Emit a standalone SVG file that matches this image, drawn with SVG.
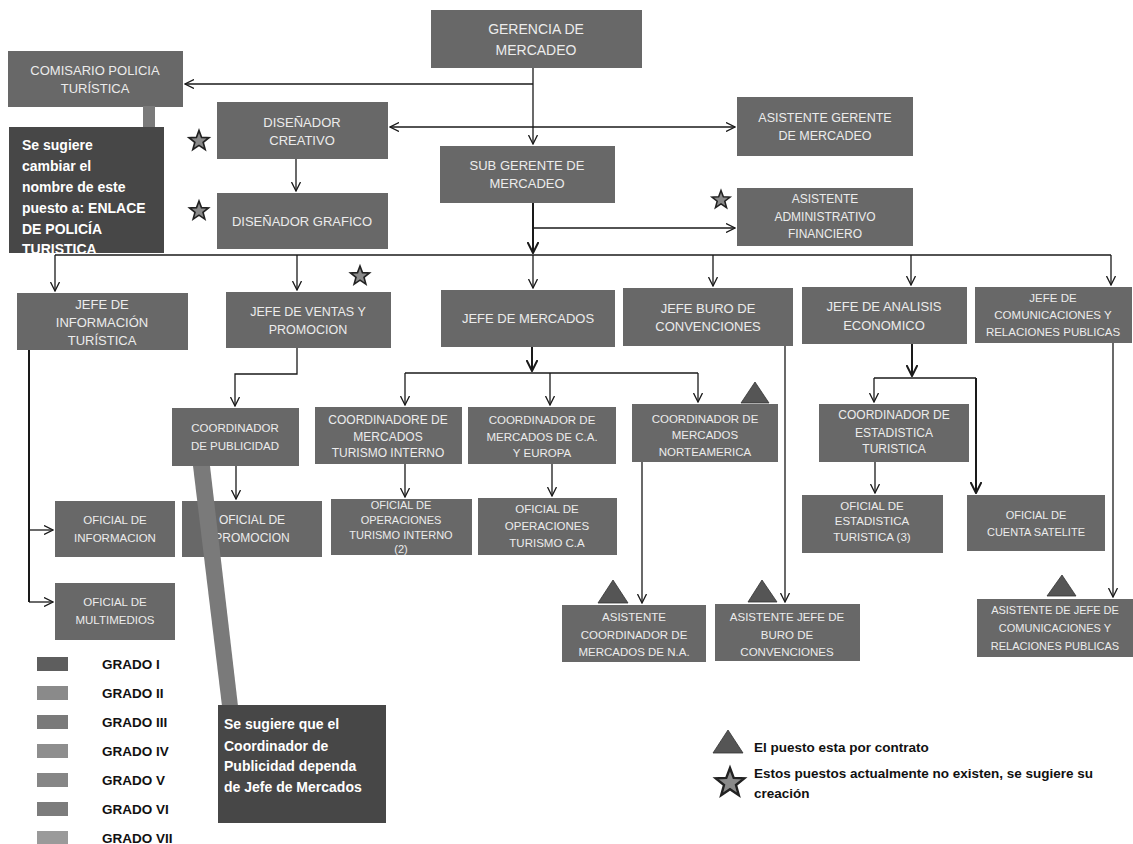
<svg xmlns="http://www.w3.org/2000/svg" xmlns:xlink="http://www.w3.org/1999/xlink" width="1133" height="844" viewBox="0 0 1133 844">
<style>
.box{fill:#686868}
.call{fill:#474747}
.t{font-family:"Liberation Sans",Arial,sans-serif;fill:#ececec;text-anchor:middle}
.ct{font-family:"Liberation Sans",Arial,sans-serif;fill:#ffffff;font-weight:bold;font-size:14px}
.lg{font-family:"Liberation Sans",Arial,sans-serif;fill:#111;font-weight:bold}
.c{stroke:#1a1a1a;stroke-width:1.3;fill:none}
.cb{stroke:#1a1a1a;stroke-width:2;fill:none}
.bar{fill:#7a7a7a}
.tri{fill:#555;stroke:#333;stroke-width:0.8}
.star{fill:#8a8a8a;stroke:#222;stroke-width:1.6}
</style>
<defs>
<marker id="a" markerUnits="userSpaceOnUse" viewBox="0 0 10 10" refX="9" refY="5" markerWidth="10" markerHeight="10" orient="auto-start-reverse">
<path d="M0,0.5 L9,5 L0,9.5" fill="none" stroke="#1a1a1a" stroke-width="1.3"/>
</marker>
<marker id="ab" markerUnits="userSpaceOnUse" viewBox="0 0 12 12" refX="11" refY="6" markerWidth="12" markerHeight="12" orient="auto">
<path d="M0,0.5 L11,6 L0,11.5" fill="none" stroke="#1a1a1a" stroke-width="2"/>
</marker>
<path id="star" d="M0,-10 L2.47,-3.4 L9.51,-3.09 L3.99,1.3 L5.88,8.09 L0,4.2 L-5.88,8.09 L-3.99,1.3 L-9.51,-3.09 L-2.47,-3.4 Z"/>
</defs>
<rect width="1133" height="844" fill="#ffffff"/>

<g id="connectors">
<path class="c" d="M533,68 V144" marker-end="url(#a)"/>
<path class="c" d="M533,84 H185" marker-end="url(#a)"/>
<path class="c" d="M390,127 H735" marker-start="url(#a)" marker-end="url(#a)"/>
<path class="c" d="M296,159 V191" marker-end="url(#a)"/>
<path class="cb" d="M533,203 V253" marker-end="url(#ab)"/>
<path class="c" d="M533,228 H735" marker-end="url(#a)"/>
<path class="c" d="M55,255 H1111"/>
<path class="c" d="M55,255 V291" marker-end="url(#a)"/>
<path class="c" d="M297,255 V290" marker-end="url(#a)"/>
<path class="c" d="M533,255 V288" marker-end="url(#a)"/>
<path class="c" d="M713,255 V286" marker-end="url(#a)"/>
<path class="c" d="M911,255 V285" marker-end="url(#a)"/>
<path class="c" d="M1111,255 V285" marker-end="url(#a)"/>
<path class="cb" d="M29,350 V602"/>
<path class="c" d="M29,530 H53" marker-end="url(#a)"/>
<path class="c" d="M29,602 H53" marker-end="url(#a)"/>
<path class="c" d="M297,348 V374 H235 V406" marker-end="url(#a)"/>
<path class="c" d="M236,466 V499" marker-end="url(#a)"/>
<path class="cb" d="M532,347 V371" marker-end="url(#ab)"/>
<path class="c" d="M405,373 H698"/>
<path class="c" d="M405,373 V405" marker-end="url(#a)"/>
<path class="c" d="M550,373 V405" marker-end="url(#a)"/>
<path class="c" d="M698,373 V402" marker-end="url(#a)"/>
<path class="c" d="M405,464 V497" marker-end="url(#a)"/>
<path class="c" d="M552,464 V496" marker-end="url(#a)"/>
<path class="c" d="M642,462 V603" marker-end="url(#a)"/>
<path class="c" d="M785,346 V602" marker-end="url(#a)"/>
<path class="cb" d="M912,344 V376" marker-end="url(#ab)"/>
<path class="c" d="M874,378 H976"/>
<path class="c" d="M874,378 V402" marker-end="url(#a)"/>
<path class="cb" d="M976,378 V493" marker-end="url(#ab)"/>
<path class="c" d="M875,462 V493" marker-end="url(#a)"/>
<path class="c" d="M1113,343 V597" marker-end="url(#a)"/>
</g>

<g id="gerencia"><rect class="box" x="431" y="10" width="211" height="58"/>
<text class="t" font-size="14"><tspan x="536" y="34">GERENCIA DE</tspan><tspan x="536" y="55">MERCADEO</tspan></text></g>

<g id="comisario"><rect class="box" x="8" y="51" width="175" height="56"/>
<text class="t" font-size="13"><tspan x="95" y="75">COMISARIO POLICIA</tspan><tspan x="95" y="93">TURÍSTICA</tspan></text></g>

<g id="nota-comisario"><rect class="bar" x="143" y="106" width="12" height="22"/>
<rect class="call" x="9" y="127" width="155" height="126"/>
<text class="ct"><tspan x="22" y="150">Se sugiere</tspan><tspan x="22" y="171">cambiar el</tspan><tspan x="22" y="192">nombre de este</tspan><tspan x="22" y="213">puesto a: ENLACE</tspan><tspan x="22" y="234">DE POLICÍA</tspan><tspan x="22" y="254">TURISTICA</tspan></text></g>

<g id="disenador-creativo"><rect class="box" x="217" y="102" width="171" height="57"/>
<text class="t" font-size="13"><tspan x="302" y="127">DISEÑADOR</tspan><tspan x="302" y="145">CREATIVO</tspan></text>
<use href="#star" class="star" transform="translate(199,141) scale(1.05)"/></g>

<g id="disenador-grafico"><rect class="box" x="217" y="193" width="171" height="56"/>
<text class="t" font-size="13"><tspan x="302" y="226">DISEÑADOR GRAFICO</tspan></text>
<use href="#star" class="star" transform="translate(199,211) scale(1.0)"/></g>

<g id="sub-gerente"><rect class="box" x="440" y="146" width="175" height="57"/>
<text class="t" font-size="13"><tspan x="527" y="170">SUB GERENTE DE</tspan><tspan x="527" y="188">MERCADEO</tspan></text></g>

<g id="asistente-gerente"><rect class="box" x="737" y="97" width="176" height="59"/>
<text class="t" font-size="12.5"><tspan x="825" y="122">ASISTENTE GERENTE</tspan><tspan x="825" y="140">DE MERCADEO</tspan></text></g>

<g id="asistente-administrativo"><rect class="box" x="737" y="188" width="176" height="58"/>
<text class="t" font-size="12"><tspan x="825" y="203">ASISTENTE</tspan><tspan x="825" y="221">ADMINISTRATIVO</tspan><tspan x="825" y="238">FINANCIERO</tspan></text>
<use href="#star" class="star" transform="translate(721,200) scale(0.95)"/></g>

<g id="jefe-informacion"><rect class="box" x="17" y="293" width="171" height="57"/>
<text class="t" font-size="13"><tspan x="102" y="309">JEFE DE</tspan><tspan x="102" y="327">INFORMACIÓN</tspan><tspan x="102" y="345">TURÍSTICA</tspan></text></g>

<g id="jefe-ventas"><rect class="box" x="226" y="292" width="165" height="56"/>
<text class="t" font-size="12.5"><tspan x="308" y="316">JEFE DE VENTAS Y</tspan><tspan x="308" y="334">PROMOCION</tspan></text>
<use href="#star" class="star" transform="translate(360,276) scale(1.0)"/></g>

<g id="jefe-mercados"><rect class="box" x="441" y="290" width="174" height="57"/>
<text class="t" font-size="13"><tspan x="528" y="323">JEFE DE MERCADOS</tspan></text></g>

<g id="jefe-buro"><rect class="box" x="623" y="288" width="170" height="58"/>
<text class="t" font-size="13"><tspan x="708" y="313">JEFE  BURO DE</tspan><tspan x="708" y="331">CONVENCIONES</tspan></text></g>

<g id="jefe-analisis"><rect class="box" x="802" y="287" width="165" height="57"/>
<text class="t" font-size="13"><tspan x="884" y="311">JEFE DE ANALISIS</tspan><tspan x="884" y="330">ECONOMICO</tspan></text></g>

<g id="jefe-comunicaciones"><rect class="box" x="975" y="287" width="157" height="56"/>
<text class="t" font-size="11.5"><tspan x="1053" y="302">JEFE DE</tspan><tspan x="1053" y="319">COMUNICACIONES Y</tspan><tspan x="1053" y="336">RELACIONES PUBLICAS</tspan></text></g>

<g id="coordinador-publicidad"><rect class="box" x="172" y="408" width="127" height="58"/>
<text class="t" font-size="11.5"><tspan x="235" y="432">COORDINADOR</tspan><tspan x="235" y="450">DE PUBLICIDAD</tspan></text></g>

<g id="coordinador-turismo-interno"><rect class="box" x="315" y="407" width="147" height="57"/>
<text class="t" font-size="12"><tspan x="388" y="424">COORDINADORE DE</tspan><tspan x="388" y="441">MERCADOS</tspan><tspan x="388" y="457">TURISMO INTERNO</tspan></text></g>

<g id="coordinador-ca-europa"><rect class="box" x="468" y="407" width="148" height="57"/>
<text class="t" font-size="11.5"><tspan x="542" y="424">COORDINADOR DE</tspan><tspan x="542" y="441">MERCADOS DE C.A.</tspan><tspan x="542" y="457">Y EUROPA</tspan></text></g>

<g id="coordinador-norteamerica"><rect class="box" x="632" y="404" width="146" height="58"/>
<text class="t" font-size="11.5"><tspan x="705" y="423">COORDINADOR DE</tspan><tspan x="705" y="439">MERCADOS</tspan><tspan x="705" y="456">NORTEAMERICA</tspan></text>
<polygon class="tri" points="741,403 755,382 769,403"/></g>

<g id="oficial-informacion"><rect class="box" x="55" y="501" width="120" height="56"/>
<text class="t" font-size="11.5"><tspan x="115" y="524">OFICIAL DE</tspan><tspan x="115" y="542">INFORMACION</tspan></text></g>

<g id="oficial-multimedios"><rect class="box" x="55" y="583" width="120" height="57"/>
<text class="t" font-size="11.5"><tspan x="115" y="606">OFICIAL DE</tspan><tspan x="115" y="624">MULTIMEDIOS</tspan></text></g>

<g id="oficial-promocion"><rect class="box" x="182" y="501" width="140" height="56"/>
<text class="t" font-size="12"><tspan x="252" y="524">OFICIAL DE</tspan><tspan x="252" y="542">PROMOCION</tspan></text></g>

<g id="oficial-operaciones-interno"><rect class="box" x="331" y="499" width="141" height="56"/>
<text class="t" font-size="11"><tspan x="401" y="509">OFICIAL DE</tspan><tspan x="401" y="524">OPERACIONES</tspan><tspan x="401" y="539">TURISMO INTERNO</tspan><tspan x="401" y="553">(2)</tspan></text></g>

<g id="oficial-operaciones-ca"><rect class="box" x="478" y="498" width="139" height="57"/>
<text class="t" font-size="11.5"><tspan x="547" y="513">OFICIAL DE</tspan><tspan x="547" y="530">OPERACIONES</tspan><tspan x="547" y="547">TURISMO C.A</tspan></text></g>

<g id="asistente-coordinador-na"><rect class="box" x="562" y="605" width="144" height="57"/>
<text class="t" font-size="11.5"><tspan x="634" y="621">ASISTENTE</tspan><tspan x="634" y="639">COORDINADOR DE</tspan><tspan x="634" y="656">MERCADOS DE N.A.</tspan></text>
<polygon class="tri" points="598,603 613,580 628,603"/></g>

<g id="asistente-buro"><rect class="box" x="715" y="604" width="145" height="57"/>
<text class="t" font-size="11.5"><tspan x="787" y="621">ASISTENTE JEFE DE</tspan><tspan x="787" y="639">BURO DE</tspan><tspan x="787" y="656">CONVENCIONES</tspan></text>
<polygon class="tri" points="748,602 762,580 777,602"/></g>

<g id="coordinador-estadistica"><rect class="box" x="819" y="404" width="150" height="58"/>
<text class="t" font-size="12"><tspan x="894" y="419">COORDINADOR DE</tspan><tspan x="894" y="437">ESTADISTICA</tspan><tspan x="894" y="453">TURISTICA</tspan></text></g>

<g id="oficial-estadistica"><rect class="box" x="802" y="495" width="141" height="58"/>
<text class="t" font-size="11.5"><tspan x="872" y="510">OFICIAL DE</tspan><tspan x="872" y="525">ESTADISTICA</tspan><tspan x="872" y="541">TURISTICA (3)</tspan></text></g>

<g id="oficial-cuenta-satelite"><rect class="box" x="967" y="495" width="138" height="56"/>
<text class="t" font-size="11"><tspan x="1036" y="519">OFICIAL DE</tspan><tspan x="1036" y="536">CUENTA SATELITE</tspan></text></g>

<g id="asistente-comunicaciones"><rect class="box" x="977" y="599" width="156" height="58"/>
<text class="t" font-size="11"><tspan x="1055" y="614">ASISTENTE DE JEFE DE</tspan><tspan x="1055" y="632">COMUNICACIONES Y</tspan><tspan x="1055" y="650">RELACIONES PUBLICAS</tspan></text>
<polygon class="tri" points="1047,596 1062,575 1076,596"/></g>

<g id="nota-publicidad"><polygon class="bar" points="193,466 210,466 238,706 222,706"/>
<rect class="call" x="218" y="705" width="168" height="118"/>
<text class="ct"><tspan x="224" y="729">Se sugiere que el</tspan><tspan x="224" y="751">Coordinador de</tspan><tspan x="224" y="771">Publicidad dependa</tspan><tspan x="224" y="792">de Jefe de Mercados</tspan></text></g>

<g id="leyenda-grados">
<rect x="37" y="657" width="31" height="14" fill="#5e5e5e"/>
<rect x="37" y="686" width="31" height="14" fill="#8a8a8a"/>
<rect x="37" y="715" width="31" height="14" fill="#7a7a7a"/>
<rect x="37" y="744" width="31" height="14" fill="#8e8e8e"/>
<rect x="37" y="773" width="31" height="14" fill="#868686"/>
<rect x="37" y="802" width="31" height="14" fill="#7c7c7c"/>
<rect x="37" y="831" width="31" height="13" fill="#9a9a9a"/>
<text class="lg" font-size="13.5"><tspan x="102" y="669">GRADO I</tspan><tspan x="102" y="698">GRADO II</tspan><tspan x="102" y="727">GRADO III</tspan><tspan x="102" y="756">GRADO IV</tspan><tspan x="102" y="785">GRADO V</tspan><tspan x="102" y="814">GRADO VI</tspan><tspan x="102" y="843">GRADO VII</tspan></text>
</g>

<g id="leyenda-simbolos">
<polygon class="tri" points="713,753 728,730 743,753"/>
<text class="lg" font-size="13.5" x="754" y="752">El puesto esta por contrato</text>
<use href="#star" class="star" transform="translate(730,783) scale(1.5)"/>
<text class="lg" font-size="13.5"><tspan x="754" y="778">Estos puestos actualmente no existen, se sugiere su</tspan><tspan x="754" y="798">creación</tspan></text>
</g>
</svg>
